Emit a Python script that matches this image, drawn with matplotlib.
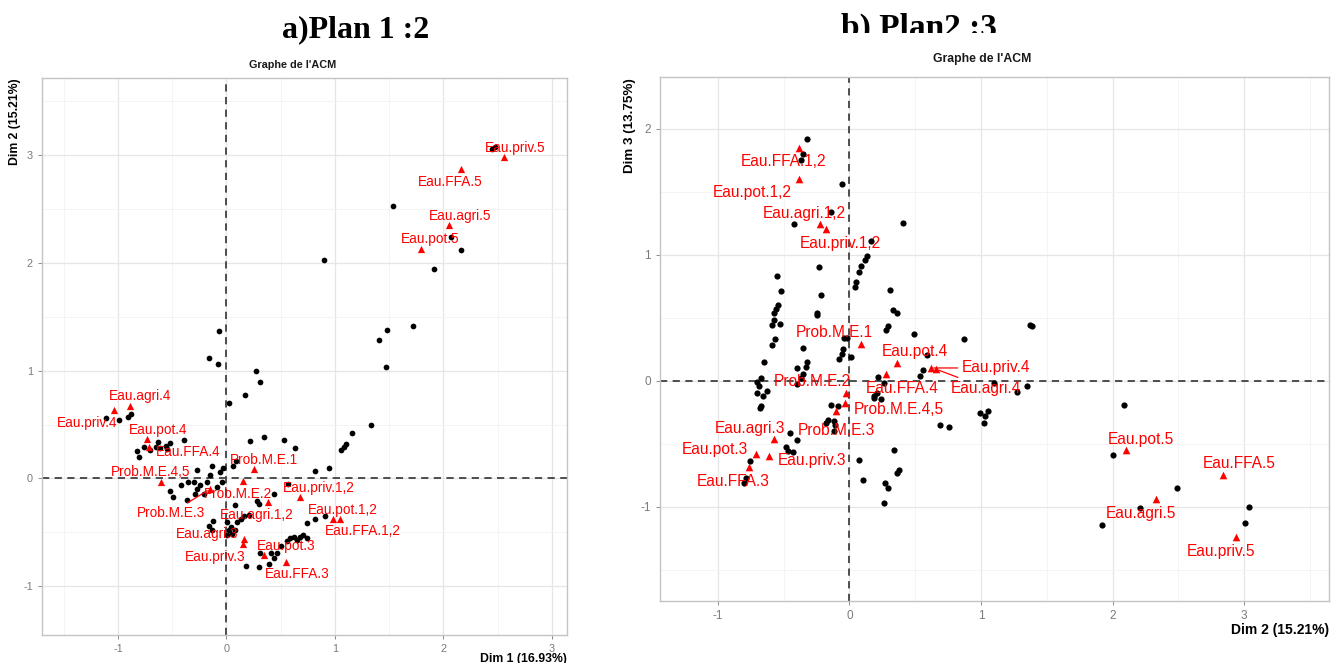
import matplotlib
matplotlib.use('Agg')
import matplotlib.pyplot as plt
from matplotlib.transforms import Bbox

plt.rcParams['font.family'] = ['Liberation Sans', 'DejaVu Sans']
plt.rcParams['axes.unicode_minus'] = False

W, H = 1333, 663

# category labels (same order for both planes)
cat_names = ['Eau.agri.1,2', 'Eau.agri.3', 'Eau.agri.4', 'Eau.agri.5',
             'Eau.FFA.1,2', 'Eau.FFA.3', 'Eau.FFA.4', 'Eau.FFA.5',
             'Eau.pot.1,2', 'Eau.pot.3', 'Eau.pot.4', 'Eau.pot.5',
             'Eau.priv.1,2', 'Eau.priv.3', 'Eau.priv.4', 'Eau.priv.5',
             'Prob.M.E.1', 'Prob.M.E.2', 'Prob.M.E.3', 'Prob.M.E.4,5']

# plane 1:2 - categories
a_cat_x = [0.38, 0.16, -0.885, 2.05, 1.05, 0.55, -0.715, 2.16, 0.98, 0.35,
           -0.73, 1.79, 0.675, 0.15, -1.04, 2.56, 0.25, 0.15, -0.155, -0.60]
a_cat_y = [-0.22, -0.56, 0.67, 2.35, -0.38, -0.77, 0.29, 2.87, -0.38, -0.71,
           0.37, 2.125, -0.17, -0.61, 0.63, 2.98, 0.09, -0.02, -0.10, -0.03]

# plane 1:2 - individuals
a_ind_x = [-0.07, -0.16, -0.08, 0.27, 0.31, 0.17, 0.02,
           1.72, 1.48, 1.41, 1.47, 1.33, 1.16, 1.10, 1.08, 1.06,
           0.22, 0.35, 0.53, 0.63, 0.82, 0.95,
           -1.11, -0.99, -0.91, -0.88,
           -0.39, -0.63, -0.76, -0.82, -0.81, -0.70, -0.65, -0.61, -0.56, -0.52, -0.55,
           -0.27, -0.13, -0.06, -0.03, -0.15, -0.18, -0.24, -0.27, -0.30, -0.35, -0.42,
           -0.52, -0.49, -0.36, -0.29, -0.21, -0.09, -0.04,
           0.09, 0.06, 0.08, 0.28, 0.30, 0.44, 0.57,
           -0.12, -0.16, -0.13, 0.01, 0.04, 0.10, 0.13, 0.16, 0.21, 0.02, 0.05, 0.01, 0.08,
           0.74, 0.82, 0.91,
           0.41, 0.31, 0.47, 0.50, 0.56, 0.59, 0.62, 0.65, 0.68, 0.71, 0.74,
           0.18, 0.30, 0.39, 0.44,
           2.45, 2.48, 1.54, 2.07, 2.16, 1.91, 0.90]
a_ind_y = [1.37, 1.12, 1.06, 1.00, 0.89, 0.77, 0.70,
           1.41, 1.38, 1.28, 1.03, 0.50, 0.42, 0.32, 0.29, 0.26,
           0.35, 0.38, 0.36, 0.28, 0.07, 0.10,
           0.56, 0.54, 0.57, 0.60,
           0.36, 0.34, 0.29, 0.25, 0.20, 0.26, 0.29, 0.28, 0.30, 0.33, 0.27,
           0.08, 0.12, 0.06, 0.10, 0.03, -0.03, -0.06, -0.10, -0.03, -0.03, -0.06,
           -0.12, -0.17, -0.20, -0.14, -0.14, -0.08, -0.03,
           0.16, 0.12, -0.25, -0.21, -0.24, -0.14, -0.05,
           -0.39, -0.44, -0.48, -0.40, -0.45, -0.40, -0.38, -0.35, -0.34, -0.48, -0.51, -0.52, -0.48,
           -0.41, -0.38, -0.35,
           -0.69, -0.69, -0.69, -0.63, -0.58, -0.55, -0.54, -0.57, -0.54, -0.52, -0.55,
           -0.81, -0.82, -0.79, -0.74,
           3.05, 3.07, 2.52, 2.24, 2.12, 1.94, 2.02]

# plane 2:3 - categories
b_cat_x = [-0.226, -0.57, 0.66, 2.33, -0.385, -0.76, 0.28, 2.84, -0.38, -0.71,
           0.36, 2.10, -0.18, -0.61, 0.62, 2.94, 0.09, -0.03, -0.10, -0.036]
b_cat_y = [1.24, -0.46, 0.09, -0.94, 1.85, -0.69, 0.05, -0.746, 1.60, -0.58,
           0.14, -0.55, 1.20, -0.60, 0.10, -1.24, 0.29, -0.10, -0.24, -0.18]

# plane 2:3 - individuals
b_ind_x = [-0.32, -0.35, -0.37, -0.06, -0.14, -0.42, 0.41, 0.16, 0.13, 0.12, 0.09, 0.07,
           0.05, 0.04, -0.23, -0.22, -0.25, -0.25,
           -0.55, -0.52, -0.54, -0.555, -0.57, -0.575, -0.59, -0.53, -0.565, -0.59, -0.65,
           -0.67, -0.70, -0.69, -0.70, -0.63, -0.66, -0.67, -0.68,
           -0.355, -0.32, -0.33, -0.40, -0.35, -0.37, -0.40,
           -0.04, -0.02, -0.05, -0.06, -0.08, 0.01,
           0.31, 0.33, 0.36, 0.29, 0.28, 0.49, 0.87, 0.59, 0.56, 0.54,
           0.22, 0.26, 0.19, 0.185, 0.24, 0.21,
           1.37, 1.39, 1.10, 1.35, 1.27, 0.99, 1.05, 1.03, 1.02, 0.69, 0.76,
           -0.14, -0.09, -0.165, -0.175, -0.12, -0.11, -0.12,
           -0.45, -0.40, -0.48, -0.47, -0.43,
           -0.755, -0.79, -0.80,
           0.07, 0.10, 0.34, 0.36, 0.375, 0.27, 0.29, 0.26,
           2.09, 2.00, 2.49, 2.21, 1.92, 3.04, 3.01]
b_ind_y = [1.92, 1.80, 1.75, 1.56, 1.34, 1.24, 1.25, 1.11, 0.99, 0.96, 0.91, 0.86,
           0.78, 0.74, 0.90, 0.68, 0.54, 0.52,
           0.83, 0.71, 0.60, 0.57, 0.54, 0.48, 0.44, 0.45, 0.33, 0.28, 0.15,
           0.02, -0.01, -0.045, -0.10, -0.085, -0.12, -0.20, -0.22,
           0.26, 0.15, 0.11, 0.10, 0.05, 0.02, -0.03,
           0.34, 0.34, 0.25, 0.21, 0.17, 0.19,
           0.72, 0.56, 0.54, 0.43, 0.40, 0.37, 0.33, 0.20, 0.08, 0.04,
           0.03, -0.02, -0.12, -0.14, -0.145, -0.10,
           0.44, 0.43, -0.02, -0.045, -0.09, -0.26, -0.24, -0.28, -0.34, -0.35, -0.37,
           -0.19, -0.20, -0.31, -0.34, -0.32, -0.35, -0.40,
           -0.415, -0.47, -0.53, -0.56, -0.57,
           -0.64, -0.77, -0.81,
           -0.63, -0.79, -0.55, -0.73, -0.71, -0.81, -0.85, -0.97,
           -0.19, -0.59, -0.85, -1.01, -1.15, -1.00, -1.13]

# label placement (pixel offsets from the point), as the repel layout put them
a_offsets = [(-11, -13), (-37, 5), (10, 10), (11, 9), (23, -12), (11, -12), (39, -5),
             (-10, -13), (10, 9), (22, 9), (11, 9), (10, 10), (19, 9), (-27, -13),
             (-26, -13), (11, 9), (10, 9), (-5, -13), (-39, -24), (-11, 10)]
a_segments = ['Prob.M.E.3']
b_offsets = [(-15, 11), (-25, 10), (50, -19), (-15, -15), (-15, -14), (-16, -14), (16, -14),
             (16, 11), (-47, -13), (-41, 4), (18, 11), (15, 10), (15, -14), (43, -4),
             (65, 0), (-15, -15), (-27, 12), (-33, 12), (0, -20), (54, -6)]
b_segments = ['Eau.priv.4', 'Eau.agri.4']


def style_axes(ax, xlim, ylim, ticks_x, ticks_y, fs):
    ax.set_xticks(ticks_x)
    ax.set_yticks(ticks_y)
    ax.set_xticks([t + 0.5 for t in [ticks_x[0] - 1] + ticks_x], minor=True)
    ax.set_yticks([t + 0.5 for t in [ticks_y[0] - 1] + ticks_y], minor=True)
    # limits after the ticks, so the minor ticks do not widen the view
    ax.set_xlim(xlim)
    ax.set_ylim(ylim)
    ax.grid(True, which='major', color='#E6E6E6', lw=0.9)
    ax.grid(True, which='minor', color='#F3F3F3', lw=0.6)
    ax.set_axisbelow(True)
    for s in ax.spines.values():
        s.set_color('#C4C4C4')
        s.set_linewidth(1.0)
    ax.tick_params(which='major', colors='#7A7A7A', labelsize=fs, length=3, width=0.6)
    ax.tick_params(which='minor', length=0)
    ax.axhline(0, color='#404040', lw=1.3, ls=(0, (4, 3)), zorder=1)
    ax.axvline(0, color='#404040', lw=1.3, ls=(0, (4, 3)), zorder=1)


def draw_plane(ax, ind_x, ind_y, cat_x, cat_y, offsets, segments, psize, fs):
    ax.scatter(ind_x, ind_y, s=psize, c='black', lw=0, zorder=2)
    ax.scatter(cat_x, cat_y, s=psize + 10, c='red', marker='^', lw=0, zorder=3)
    for name, x, y, off in zip(cat_names, cat_x, cat_y, offsets):
        arrow = None
        if name in segments:
            arrow = dict(arrowstyle='-', color='red', lw=0.9, shrinkA=1, shrinkB=2)
        ax.annotate(name, (x, y), xytext=off, textcoords='offset pixels',
                    ha='center', va='center', color='red', fontsize=fs,
                    arrowprops=arrow, zorder=4)


fig = plt.figure(figsize=(W / 100, H / 100), dpi=100)

ax_a = fig.add_axes([42 / W, 1 - 635 / H, 525 / W, 557 / H])
style_axes(ax_a, (-1.70, 3.14), (-1.45, 3.71), [-1, 0, 1, 2, 3], [-1, 0, 1, 2, 3], 7.8)
draw_plane(ax_a, a_ind_x, a_ind_y, a_cat_x, a_cat_y, a_offsets, a_segments, 17, 9.8)

ax_b = fig.add_axes([660 / W, 1 - 601 / H, 669 / W, 524 / H])
style_axes(ax_b, (-1.44, 3.645), (-1.75, 2.41), [-1, 0, 1, 2, 3], [-1, 0, 1, 2], 8.5)
draw_plane(ax_b, b_ind_x, b_ind_y, b_cat_x, b_cat_y, b_offsets, b_segments, 20, 11.2)

# plot titles and axis titles (FactoMineR style: at the ends of the axes)
fig.text(293 / W, 1 - 65 / H, "Graphe de l'ACM", ha='center', va='center',
         fontsize=7.8, fontweight='bold', color='#1A1A1A')
fig.text(982 / W, 1 - 59 / H, "Graphe de l'ACM", ha='center', va='center',
         fontsize=8.8, fontweight='bold', color='#1A1A1A')
fig.text(15 / W, 1 - 78 / H, 'Dim 2 (15.21%)', rotation=90, ha='center', va='top',
         fontsize=8.8, fontweight='bold')
fig.text(567 / W, 1 - 653 / H, 'Dim 1 (16.93%)', ha='right', va='top',
         fontsize=8.8, fontweight='bold')
fig.text(630 / W, 1 - 78 / H, 'Dim 3 (13.75%)', rotation=90, ha='center', va='top',
         fontsize=9.6, fontweight='bold')
fig.text(1329 / W, 1 - 630 / H, 'Dim 2 (15.21%)', ha='right', va='center',
         fontsize=10, fontweight='bold')

# panel captions
fig.text(356 / W, 1 - 30 / H, 'a)Plan 1 :2', ha='center', va='center',
         fontsize=23, fontweight='bold', family='Liberation Serif')
tb = fig.text(919 / W, 1 - 28 / H, 'b) Plan2 :3', ha='center', va='center',
              fontsize=24, fontweight='bold', family='Liberation Serif')
# the caption of panel b is cut at its lower part in the source
tb.set_clip_box(Bbox([[0, H - 33], [W, H]]))
tb.set_clip_on(True)

fig.savefig('out.png', dpi=100)
